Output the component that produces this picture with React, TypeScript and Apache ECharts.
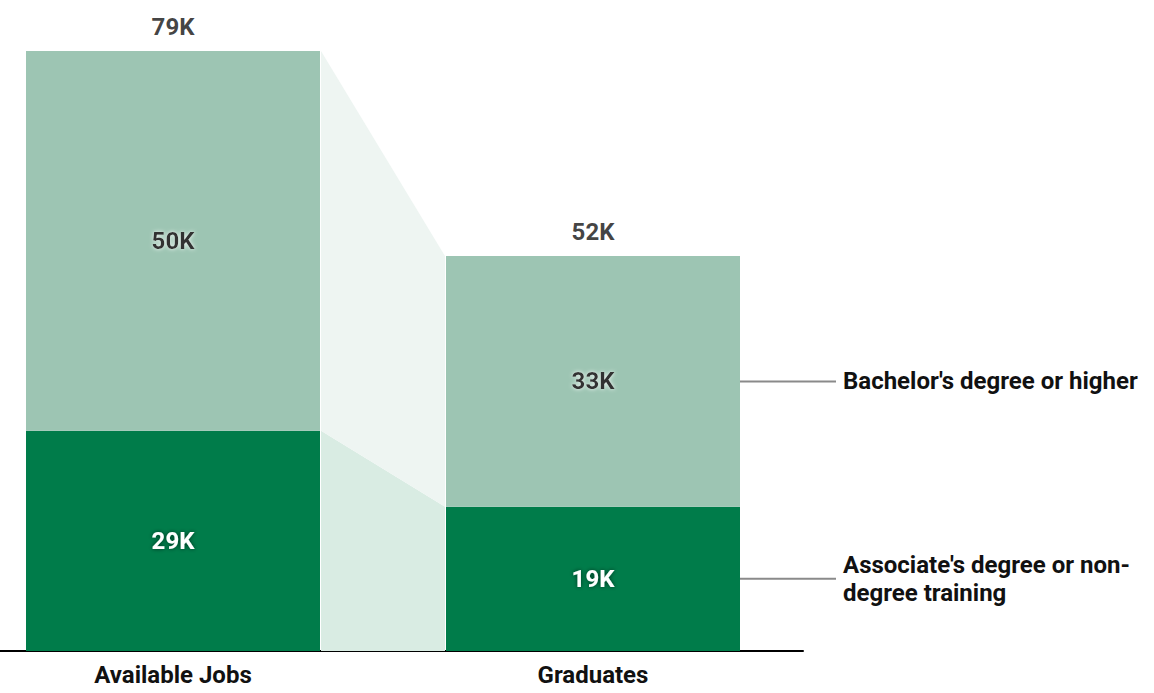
import React, { useEffect, useRef } from 'react';
import * as echarts from 'echarts';

const categories = ['Available Jobs', 'Graduates'];
const associate = [29, 19];
const bachelor = [50, 33];
const seriesNames = ["Bachelor's degree or higher", "Associate's degree or non-\ndegree training"];

const BAR_W = 294;
const FONT = 'Roboto, "Noto Sans", sans-serif';

const App: React.FC = () => {
  const chartRef = useRef<HTMLDivElement>(null);

  useEffect(() => {
    if (!chartRef.current) return;
    const chart = echarts.init(chartRef.current, null, { renderer: 'svg' });

    const totals = categories.map((_, i) => associate[i] + bachelor[i]);

    // bands between the two columns: [lo0, hi0, lo1, hi1, color]
    const bands = [
      [0, associate[0], 0, associate[1], '#d9ece3'],
      [associate[0], totals[0], associate[1], totals[1], '#eef5f2'],
    ];

    // right-hand labels next to the Graduates column
    const notes = [
      [associate[1], totals[1], seriesNames[0]],
      [0, associate[1], seriesNames[1]],
    ];

    const valueLabel = (color: string, shadow: string) => ({
      show: true,
      position: 'inside',
      formatter: (p: any) => `${p.value}K`,
      fontSize: 24,
      fontWeight: 'bold',
      color,
      fontFamily: FONT,
      textShadowColor: shadow,
      textShadowBlur: 4,
    });

    const option = {
      animation: false,
      textStyle: { fontFamily: FONT },
      grid: { left: -37, width: 840, top: 51, bottom: 42, outerBoundsMode: 'none', containLabel: false },
      xAxis: {
        type: 'category',
        data: categories,
        axisLine: { lineStyle: { color: '#000', width: 2 } },
        axisTick: { show: false },
        axisLabel: { fontSize: 24, fontWeight: 'bold', color: '#111', margin: 12, fontFamily: FONT },
      },
      yAxis: { type: 'value', min: 0, max: 79, show: false, splitLine: { show: false } },
      series: [
        {
          type: 'custom',
          z: 1,
          silent: true,
          renderItem: (params: any, api: any) => {
            const b = bands[params.dataIndex] as any[];
            const a0 = api.coord([0, b[0]]);
            const a1 = api.coord([0, b[1]]);
            const c0 = api.coord([1, b[2]]);
            const c1 = api.coord([1, b[3]]);
            const xl = a0[0] + BAR_W / 2 + 1;
            const xr = c0[0] - BAR_W / 2 - 1;
            return {
              type: 'polygon',
              shape: { points: [[xl, a0[1]], [xl, a1[1]], [xr, c1[1]], [xr, c0[1]]] },
              style: { fill: b[4], stroke: null },
            };
          },
          data: bands.map((_, i) => [i, 0]),
        },
        {
          name: 'Associate',
          type: 'bar',
          stack: 'total',
          barWidth: BAR_W,
          data: associate,
          itemStyle: { color: '#007c4a' },
          label: valueLabel('#fff', 'rgba(0,0,0,0.6)'),
        },
        {
          name: 'Bachelor',
          type: 'bar',
          stack: 'total',
          barWidth: BAR_W,
          data: bachelor,
          itemStyle: { color: '#9dc5b3' },
          label: valueLabel('#333', 'rgba(255,255,255,0.9)'),
        },
        {
          type: 'scatter',
          symbolSize: 0,
          silent: true,
          data: totals.map((t, i) => [i, t]),
          label: {
            show: true,
            position: 'top',
            distance: 12,
            formatter: (p: any) => `${p.value[1]}K`,
            fontSize: 24,
            fontWeight: 'bold',
            color: '#111',
            fontFamily: FONT,
          },
        },
        {
          type: 'custom',
          z: 3,
          silent: true,
          renderItem: (params: any, api: any) => {
            const n = notes[params.dataIndex] as any[];
            const mid = api.coord([1, (n[0] + n[1]) / 2]);
            const x0 = mid[0] + BAR_W / 2;
            return {
              type: 'group',
              children: [
                {
                  type: 'line',
                  shape: { x1: x0, y1: mid[1], x2: x0 + 96, y2: mid[1] },
                  style: { stroke: '#8a8a8a', lineWidth: 2 },
                },
                {
                  type: 'text',
                  x: x0 + 103,
                  y: mid[1],
                  style: {
                    text: n[2],
                    fill: '#111',
                    fontSize: 24,
                    fontWeight: 'bold',
                    fontFamily: FONT,
                    lineHeight: 28,
                    verticalAlign: 'middle',
                    align: 'left',
                  },
                },
              ],
            };
          },
          data: notes.map((_, i) => [1, i]),
        },
      ],
    };

    chart.setOption(option);

    return () => {
      chart.dispose();
    };
  }, []);

  return (
    <div
      ref={chartRef}
      style={{ position: 'absolute', left: 0, top: 0, width: 1154, height: 693, background: '#fff' }}
    />
  );
};

export default App;
